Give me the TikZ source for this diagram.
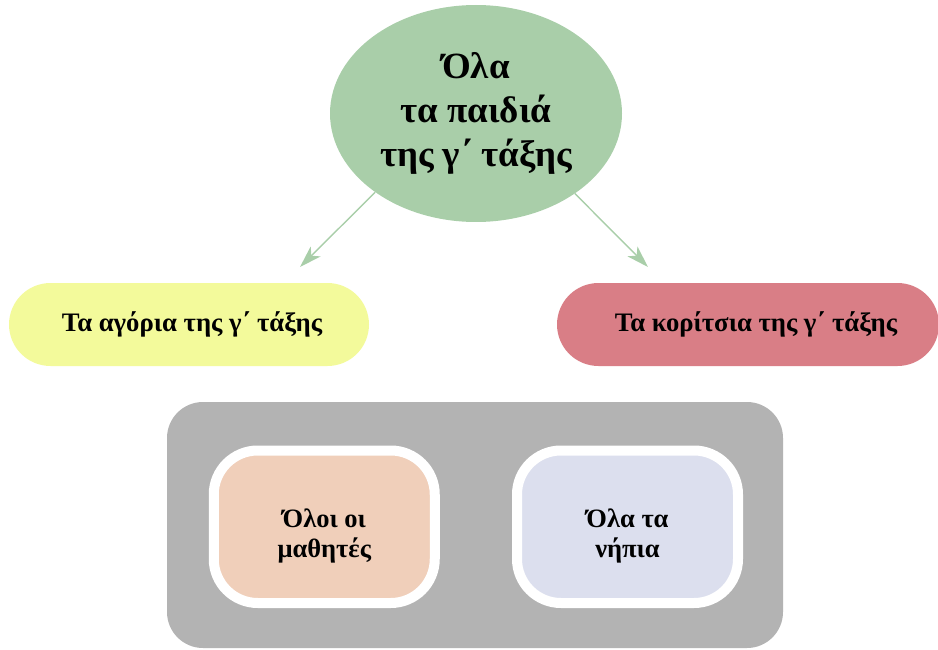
\documentclass[tikz,border=0pt]{standalone}
\usepackage{fontspec}
\setmainfont{Liberation Serif}
\usetikzlibrary{shapes.geometric,arrows.meta}
\definecolor{egreen}{HTML}{A9CEA9}
\definecolor{pyellow}{HTML}{F3FA9B}
\definecolor{ppink}{HTML}{D97E86}
\definecolor{bgray}{HTML}{B3B3B3}
\definecolor{ipeach}{HTML}{F0CFBA}
\definecolor{ilav}{HTML}{DCDFEE}
\tikzset{
  pill/.style={rectangle, rounded corners=41.5pt, minimum height=83pt, inner sep=0pt,
    font=\fontsize{26.7}{30}\selectfont\bfseries},
  inbox/.style={rectangle, rounded corners=44pt, draw=white, line width=10pt,
    minimum width=221pt, minimum height=152.5pt, inner sep=0pt, align=center,
    font=\fontsize{26.5}{30}\selectfont\bfseries},
  conn/.style={draw=egreen, line width=1.4pt, -{Stealth[length=22pt,width=14pt,inset=6pt]}}
}
\begin{document}
\begin{tikzpicture}[x=1pt,y=-1pt]
\useasboundingbox (0,0) rectangle (938,650);
\node[ellipse, fill=egreen, minimum width=292pt, minimum height=217pt, inner sep=0pt,
  align=center, font=\fontsize{37}{44}\selectfont\bfseries] (top) at (476,113.5)
  {Όλα\\τα παιδιά\\της γ΄ τάξης};
\node[pill, fill=pyellow, minimum width=360pt] (boys) at (189,324.5) {\hspace*{6pt}Τα αγόρια της γ΄ τάξης};
\node[pill, fill=ppink, minimum width=382pt] (girls) at (748,324.5) {\hspace*{16pt}Τα κορίτσια της γ΄ τάξης};
\coordinate (la) at (300,267);
\coordinate (ra) at (648,267);
\draw[conn] (top.218) -- (la);
\draw[conn] (top.321) -- (ra);
\node[rectangle, rounded corners=36pt, fill=bgray, minimum width=616pt, minimum height=246pt,
  inner sep=0pt] (group) at (475,525) {};
\node[inbox, fill=ipeach] (pupils) at (324.25,526.75) {\rule{0pt}{37pt}Όλοι οι\\μαθητές};
\node[inbox, fill=ilav] (infants) at (627.5,526.75) {\rule{0pt}{37pt}Όλα τα\\νήπια};
\end{tikzpicture}
\end{document}
